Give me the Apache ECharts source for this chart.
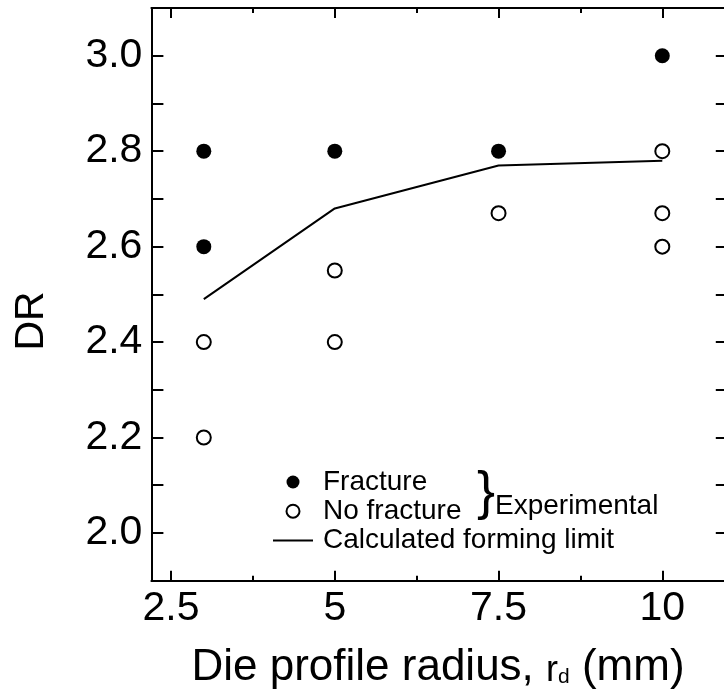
<!DOCTYPE html>
<html>
<head>
<meta charset="utf-8">
<script src="https://cdn.jsdelivr.net/npm/echarts@6/dist/echarts.min.js"></script>
<style>
html,body{margin:0;padding:0;background:#fff;}
#chart{width:724px;height:694px;}
</style>
</head>
<body>
<div id="chart"></div>
<script>
// ---- data ----
var fractureX = [3, 3, 5, 7.5, 10];
var fractureY = [2.8, 2.6, 2.8, 2.8, 3.0];
var noFractureX = [3, 3, 5, 5, 7.5, 10, 10, 10];
var noFractureY = [2.4, 2.2, 2.55, 2.4, 2.67, 2.8, 2.67, 2.6];
var limitX = [3, 5, 7.5, 10];
var limitY = [2.49, 2.68, 2.77, 2.78];
var xTickLabels = [2.5, 5, 7.5, 10];
var xMinorTicks = [3.75, 6.25, 8.75];
var yTickLabels = [2.0, 2.2, 2.4, 2.6, 2.8, 3.0];
var yTicks = [2.0, 2.1, 2.2, 2.3, 2.4, 2.5, 2.6, 2.7, 2.8, 2.9, 3.0];

function pairs(xs, ys) { return xs.map(function (x, i) { return [x, ys[i]]; }); }

var FONT = '"Liberation Sans", Arial, Helvetica, sans-serif';
var chart = echarts.init(document.getElementById('chart'), null, {renderer: 'canvas'});

function xAxisBase(pos, ticks, len, showLine, showLabel) {
  return {
    type: 'value', position: pos, min: 2.2, max: 11, gridIndex: 0,
    axisLine: {show: showLine, onZero: false, lineStyle: {color: '#000', width: 2}},
    axisTick: {show: true, inside: true, length: len, customValues: ticks, lineStyle: {color: '#000', width: 2}},
    axisLabel: {show: showLabel, customValues: xTickLabels, color: '#000', fontFamily: FONT, fontSize: 41, margin: 7,
      formatter: function (v) { return String(v); }},
    splitLine: {show: false}
  };
}

function yAxisBase(pos, showLabel) {
  return {
    type: 'value', position: pos, min: 1.9, max: 3.1, gridIndex: 0,
    axisLine: {show: true, onZero: false, lineStyle: {color: '#000', width: 2}},
    axisTick: {show: true, inside: true, length: 12, customValues: yTicks, lineStyle: {color: '#000', width: 2}},
    axisLabel: {show: showLabel, customValues: yTickLabels, color: '#000', fontFamily: FONT, fontSize: 41, margin: 9,
      formatter: function (v) { return v.toFixed(1); }},
    splitLine: {show: false}
  };
}

var option = {
  backgroundColor: '#fff',
  animation: false,
  grid: {left: 151.4, top: 8, width: 576.4, height: 572.7, containLabel: false, outerBoundsMode: 'none'},
  xAxis: [
    xAxisBase('bottom', xTickLabels, 10, true, true),
    xAxisBase('bottom', xMinorTicks, 5, false, false),
    xAxisBase('top', xTickLabels, 10, true, false),
    xAxisBase('top', xMinorTicks, 5, false, false)
  ],
  yAxis: [
    yAxisBase('left', true),
    yAxisBase('right', false)
  ],
  legend: {
    left: 268, top: 463, orient: 'vertical',
    itemWidth: 40, itemHeight: 13, itemGap: 1.2,
    textStyle: {color: '#000', fontFamily: FONT, fontSize: 28, lineHeight: 28, padding: [0, 0, 0, 5]},
    data: [
      {name: 'Fracture'},
      {name: 'No fracture'},
      {name: 'Calculated forming limit', icon: 'path://M0,0 L40,0 L40,2 L0,2 Z', itemStyle: {color: '#000', borderWidth: 0}}
    ]
  },
  graphic: [
    {type: 'text', x: 32, y: 321, rotation: Math.PI / 2, z: 100,
      style: {text: 'DR', fontFamily: FONT, fontSize: 41, fill: '#000', align: 'center', verticalAlign: 'middle'}},
    {type: 'text', x: 438, y: 668, z: 100,
      style: {
        text: '{m|Die profile radius, }{r|r}{d|d}{m| (mm)}',
        align: 'center', verticalAlign: 'middle', fill: '#000', fontFamily: FONT, fontSize: 44,
        rich: {
          m: {fontFamily: FONT, fontSize: 44, fill: '#000', lineHeight: 48, verticalAlign: 'middle'},
          r: {fontFamily: FONT, fontSize: 36, fill: '#000', lineHeight: 48, verticalAlign: 'middle', padding: [6, 0, 0, 0]},
          d: {fontFamily: FONT, fontSize: 21, fill: '#000', lineHeight: 48, verticalAlign: 'bottom', padding: [0, 0, 4, 0]}
        }
      }},
    {type: 'text', left: 477, top: 467, z: 100,
      style: {text: '}', fontFamily: FONT, fontSize: 54, fill: '#000'}},
    {type: 'text', left: 495, top: 492, z: 100,
      style: {text: 'Experimental', fontFamily: FONT, fontSize: 28, fill: '#000'}}
  ],
  series: [
    {name: 'Calculated forming limit', type: 'line', xAxisIndex: 0, yAxisIndex: 0,
      data: pairs(limitX, limitY), symbol: 'none', z: 2,
      lineStyle: {color: '#000', width: 2}, itemStyle: {color: '#000'}},
    {name: 'Fracture', type: 'scatter', xAxisIndex: 0, yAxisIndex: 0,
      data: pairs(fractureX, fractureY), symbol: 'circle', symbolSize: 15, z: 3,
      itemStyle: {color: '#000', opacity: 1}},
    {name: 'No fracture', type: 'scatter', xAxisIndex: 0, yAxisIndex: 0,
      data: pairs(noFractureX, noFractureY), symbol: 'circle', symbolSize: 14, z: 3,
      itemStyle: {color: '#fff', borderColor: '#000', borderWidth: 2, opacity: 1}}
  ]
};
chart.setOption(option);
</script>
</body>
</html>
